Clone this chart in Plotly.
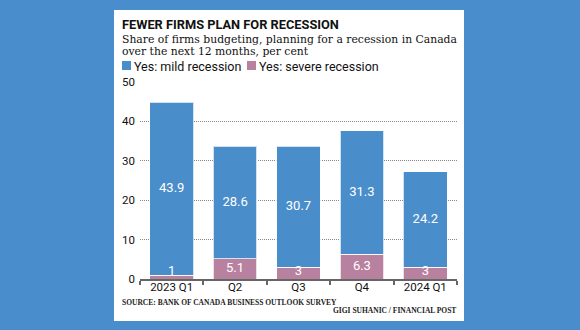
import plotly.graph_objects as go

# Bank of Canada Business Outlook Survey: share of firms planning for a recession
quarters = ["2023 Q1", "Q2", "Q3", "Q4", "2024 Q1"]
mild = [43.9, 28.6, 30.7, 31.3, 24.2]
severe = [1, 5.1, 3, 6.3, 3]
y_ticks = [0, 10, 20, 30, 40, 50]

BG_BLUE = "#4a8dcc"
BAR_BLUE = "#4a8dcb"
BAR_PINK = "#b8819f"
SANS = "Roboto, Arial, sans-serif"
SERIF = "DejaVu Serif, Georgia, serif"
SMALL_SERIF = "Liberation Serif, Times New Roman, serif"

W, H = 580, 330
L, R, T, B = 140, 457, 82, 279  # plot area in pixels


def xp(px):
    return (px - L) / (R - L)


def yp(py):
    return (B - py) / (B - T)


fig = go.Figure()

fig.add_bar(
    x=quarters, y=severe, name="Yes: severe recession",
    marker=dict(color=BAR_PINK, line=dict(color="rgba(255,255,255,0.75)", width=1)),
    hoverinfo="skip",
)
fig.add_bar(
    x=quarters, y=mild, name="Yes: mild recession",
    marker=dict(color=BAR_BLUE, line=dict(color="rgba(255,255,255,0.75)", width=1)),
    hoverinfo="skip",
)

# value labels inside the stacked segments
fig.add_scatter(
    x=quarters, y=[s + m / 2 for s, m in zip(severe, mild)],
    text=[f"{v:g}" for v in mild], mode="text",
    textfont=dict(family=SANS, size=13, color="white"),
    hoverinfo="skip", showlegend=False,
)
fig.add_scatter(
    x=quarters, y=[max(s / 2, 1.75) for s in severe],
    text=[f"{v:g}" for v in severe], mode="text",
    textfont=dict(family=SANS, size=13, color="white"),
    hoverinfo="skip", showlegend=False,
)

shapes = [
    # white card
    dict(type="rect", xref="paper", yref="paper", layer="below",
         x0=xp(114), x1=xp(464), y0=yp(321), y1=yp(10),
         fillcolor="white", line=dict(width=0)),
    # legend swatches
    dict(type="rect", xref="paper", yref="paper",
         x0=xp(122), x1=xp(131), y0=yp(70), y1=yp(61),
         fillcolor=BAR_BLUE, line=dict(width=0)),
    dict(type="rect", xref="paper", yref="paper",
         x0=xp(247), x1=xp(256), y0=yp(70), y1=yp(61),
         fillcolor=BAR_PINK, line=dict(width=0)),
]

annotations = [
    dict(text="<b>FEWER FIRMS PLAN FOR RECESSION</b>", x=xp(121), y=yp(24.5),
         font=dict(family=SANS, size=12.8, color="#111")),
    dict(text="Share of firms budgeting, planning for a recession in Canada", x=xp(121), y=yp(39.5),
         font=dict(family=SERIF, size=10.8, color="#111")),
    dict(text="over the next 12 months, per cent", x=xp(121), y=yp(51),
         font=dict(family=SERIF, size=10.8, color="#111")),
    dict(text="Yes: mild recession", x=xp(133), y=yp(66),
         font=dict(family=SANS, size=12.5, color="#111")),
    dict(text="Yes: severe recession", x=xp(258), y=yp(66),
         font=dict(family=SANS, size=12.5, color="#111")),
    dict(text="<b>SOURCE: BANK OF CANADA BUSINESS OUTLOOK SURVEY</b>", x=xp(121), y=yp(302),
         font=dict(family=SMALL_SERIF, size=7.5, color="#222")),
    dict(text="<b>GIGI SUHANIC / FINANCIAL POST</b>", x=xp(457), y=yp(310), xanchor="right",
         font=dict(family=SMALL_SERIF, size=7.5, color="#222")),
]
for a in annotations:
    a.setdefault("xanchor", "left")
    a.update(xref="paper", yref="paper", yanchor="middle", showarrow=False, borderpad=0)

fig.update_layout(
    width=W, height=H,
    margin=dict(l=L, r=W - R, t=T, b=H - B, pad=0),
    paper_bgcolor=BG_BLUE, plot_bgcolor="white",
    barmode="stack", bargap=0.31, showlegend=False,
    shapes=shapes, annotations=annotations,
    xaxis=dict(
        showline=True, linecolor="#666", linewidth=1.5,
        ticks="outside", tickson="boundaries", ticklen=4, tickcolor="#666", tickwidth=1.5,
        tickfont=dict(family=SANS, size=11.5, color="#111"),
        ticklabelstandoff=-4,
        showgrid=False, fixedrange=True,
    ),
    yaxis=dict(
        range=[0, 50], tickvals=y_ticks,
        showgrid=True, gridcolor="#888", griddash="1px,1px", gridwidth=1,
        zeroline=False, showline=False, ticks="",
        tickfont=dict(family=SANS, size=11.5, color="#111"),
        ticklabelstandoff=4, fixedrange=True,
    ),
)

fig.write_html("out.html", config={"displayModeBar": False})
